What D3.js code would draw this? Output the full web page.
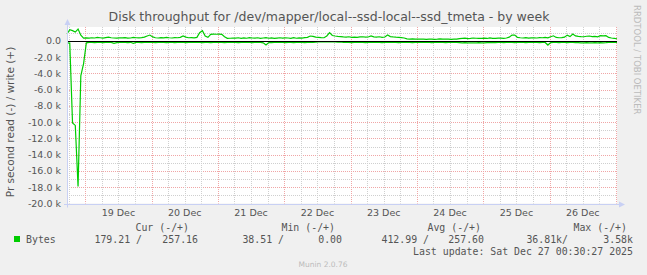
<!DOCTYPE html>
<html lang="en">
    <head>
        <meta charset="utf-8">
        <title>Disk throughput - by week</title>
        <script type="text/javascript" src="https://cdnjs.cloudflare.com/ajax/libs/d3/7.8.5/d3.min.js"></script>
        <style type="text/css">
            body { margin: 0; background: #f0f0f0; }
            text { font-family: "DejaVu Sans", sans-serif; }
            .mono { font-family: "DejaVu Sans Mono", monospace; white-space: pre; }
        </style>
    </head>
    <body>
        <script type="text/javascript">
            var w = 647;
            var h = 275;

            // hourly samples, first one at Dec 18 17:24
            var startTime = new Date(2025, 11, 18, 17, 24);

            // write, bytes per second (drawn above zero)
            var writeValues = [
                840, 1370, 1250, 1080, 1450, 700, 340,
                360, 330, 380, 350, 420, 380, 340, 400, 450, 380, 350, 330, 370,
                360, 400, 330, 350, 420, 380, 360, 390, 450, 600,
                710, 480, 380, 350, 400, 370, 420, 380, 350, 390,
                380, 420, 590, 450, 380, 400, 360, 420, 1000, 1240,
                600, 430, 800, 820, 810, 830, 800, 500, 300, 320,
                350, 330, 380, 300, 360, 320, 400, 350, 330, 380,
                300, 350, 400, 320, 360, 300, 340, 380, 330, 360,
                350, 300, 380, 320, 360, 340, 400, 420, 590, 550,
                450, 430, 400, 380, 600, 1000, 650, 590, 550, 520,
                480, 450, 500, 430, 460, 420, 480, 500, 450, 470,
                600, 480, 450, 500, 430, 470, 710, 520, 480, 450,
                430, 400, 350, 250, 220, 230, 200, 210, 220, 200,
                180, 210, 220, 190, 200, 230, 210, 200, 220, 190,
                210, 200, 260, 300, 320, 280, 300, 350, 320, 300,
                300, 330, 290, 350, 310, 300, 340, 330, 300, 350,
                450, 710, 700, 420, 380, 350, 400, 330, 360, 380,
                350, 400, 380, 430, 360, 500, 620, 420, 380, 400,
                450, 700, 520, 840, 600, 550, 520, 500, 560, 590,
                520, 550, 500, 630, 600, 640, 420, 350, 300, 257
            ];

            // read, bytes per second (drawn below zero)
            var readValues = [
                250, 280, 10100, 10400, 17900, 4300, 2800, 250,
                200, 180, 220, 190, 200, 210, 180, 190, 200, 310, 220, 190,
                200, 190, 210, 180, 310, 200, 190, 220, 200, 180,
                190, 200, 210, 190, 180, 200, 220, 190, 200, 210,
                190, 200, 180, 210, 190, 200, 180, 190, 200, 210,
                200, 190, 210, 200, 180, 190, 200, 210, 190, 200,
                180, 200, 210, 190, 200, 180, 190, 210, 200, 190,
                200, 250, 520, 220, 210, 200, 180, 190, 200, 210,
                200, 190, 210, 180, 200, 190, 210, 200, 190, 200,
                150, 130, 120, 140, 110, 130, 120, 140, 150, 130,
                180, 200, 190, 210, 200, 180, 190, 200, 210, 190,
                200, 190, 180, 200, 210, 190, 200, 180, 190, 200,
                210, 190, 200, 180, 190, 210, 200, 190, 180, 200,
                190, 200, 210, 190, 200, 180, 190, 210, 200, 190,
                200, 190, 210, 250, 230, 240, 250, 260, 240, 230,
                240, 250, 230, 220, 200, 210, 190, 200, 210, 190,
                200, 190, 210, 200, 190, 200, 210, 190, 200, 190,
                200, 210, 190, 200, 520, 210, 190, 200, 210, 190,
                200, 210, 190, 200, 220, 230, 250, 240, 230, 250,
                240, 230, 250, 220, 240, 230, 200, 190, 185, 179
            ];

            var yTickValues = [0, -2000, -4000, -6000, -8000, -10000, -12000, -14000, -16000, -18000, -20000];
            var yTickLabels = ["0.0", "-2.0 k", "-4.0 k", "-6.0 k", "-8.0 k", "-10.0 k", "-12.0 k", "-14.0 k", "-16.0 k", "-18.0 k", "-20.0 k"];
            var dayLabels = ["19 Dec", "20 Dec", "21 Dec", "22 Dec", "23 Dec", "24 Dec", "25 Dec", "26 Dec"];

            var legendHeaders = ["Cur (-/+)", "Min (-/+)", "Avg (-/+)", "Max (-/+)"];
            var legendRead = ["179.21 /", "38.51 /", "412.99 /", "36.81k/"];
            var legendWrite = ["257.16", "0.00", "257.60", "3.58k"];

            var green = "#00cc00";
            var plotLeft = 67, plotRight = 617, plotTop = 27, plotBottom = 203.5;

            var endTime = d3.timeHour.offset(startTime, writeValues.length - 1);

            var x = d3.scaleTime()
                      .domain([startTime, endTime])
                      .range([plotLeft, plotRight]);

            var y = d3.scaleLinear()
                      .domain([-20000, 1700])
                      .range([plotBottom, plotTop]);

            var svg = d3.select("body")
                        .append("svg")
                        .attr("width", w)
                        .attr("height", h);

            svg.append("rect")
               .attr("width", w).attr("height", h)
               .attr("fill", "#f0f0f0");

            svg.append("rect")
               .attr("x", plotLeft).attr("y", plotTop)
               .attr("width", plotRight - plotLeft).attr("height", plotBottom - plotTop)
               .attr("fill", "#ffffff");

            // horizontal grid, minor every 1k, major every 2k
            var gridY = d3.range(-19000, 1001, 1000);
            svg.selectAll("line.hgrid")
               .data(gridY)
               .enter()
               .append("line")
               .attr("class", "hgrid")
               .attr("x1", plotLeft)
               .attr("x2", plotRight)
               .attr("y1", function (d) { return Math.round(y(d)) + 0.5; })
               .attr("y2", function (d) { return Math.round(y(d)) + 0.5; })
               .attr("stroke", function (d) { return d % 2000 == 0 ? "#f0a6a6" : "#cfcfcf"; })
               .attr("stroke-dasharray", "1,1");

            // vertical grid, minor every 6 hours, major at midnight
            var gridX = d3.timeHour.every(6).range(startTime, endTime);
            svg.selectAll("line.vgrid")
               .data(gridX)
               .enter()
               .append("line")
               .attr("class", "vgrid")
               .attr("x1", function (d) { return Math.round(x(d)) + 0.5; })
               .attr("x2", function (d) { return Math.round(x(d)) + 0.5; })
               .attr("y1", plotTop)
               .attr("y2", plotBottom)
               .attr("stroke", function (d) { return d.getHours() == 0 ? "#f0a6a6" : "#cfcfcf"; })
               .attr("stroke-dasharray", "1,1");

            var writeData = writeValues.map(function (v, i) {
                return { t: d3.timeHour.offset(startTime, i), v: v };
            });
            var readData = readValues.map(function (v, i) {
                return { t: d3.timeHour.offset(startTime, i), v: -v };
            });

            var line = d3.line()
                         .x(function (d) { return x(d.t); })
                         .y(function (d) { return y(d.v); });

            svg.append("path")
               .datum(readData)
               .attr("d", line)
               .attr("fill", "none")
               .attr("stroke", green)
               .attr("stroke-width", 1.2);

            svg.append("path")
               .datum(writeData)
               .attr("d", line)
               .attr("fill", "none")
               .attr("stroke", green)
               .attr("stroke-width", 1.2);

            // zero rule
            svg.append("line")
               .attr("x1", plotLeft).attr("x2", plotRight)
               .attr("y1", Math.round(y(0)) + 0.5).attr("y2", Math.round(y(0)) + 0.5)
               .attr("stroke", "#000000");

            // axes with arrows
            var axisColor = "#c8d0f4";
            var by = Math.round(plotBottom) + 0.5;
            svg.append("line")
               .attr("x1", plotLeft + 0.5).attr("x2", plotLeft + 0.5)
               .attr("y1", by + 3).attr("y2", 22)
               .attr("stroke", axisColor);
            svg.append("path")
               .attr("d", "M" + (plotLeft - 2.5) + ",25 L" + (plotLeft + 3.5) + ",25 L" + (plotLeft + 0.5) + ",19 Z")
               .attr("fill", axisColor);
            svg.append("line")
               .attr("x1", plotLeft - 3).attr("x2", plotRight + 4)
               .attr("y1", by).attr("y2", by)
               .attr("stroke", axisColor);
            svg.append("path")
               .attr("d", "M" + (plotRight + 2) + "," + (by - 3) + " L" + (plotRight + 2) + "," + (by + 3) + " L" + (plotRight + 8) + "," + by + " Z")
               .attr("fill", axisColor);

            // y tick labels
            svg.selectAll("text.ylab")
               .data(yTickValues)
               .enter()
               .append("text")
               .attr("class", "ylab")
               .text(function (d, i) { return yTickLabels[i]; })
               .attr("x", 61)
               .attr("y", function (d) { return y(d) + 3.5; })
               .attr("text-anchor", "end")
               .attr("font-size", "9.5px")
               .attr("fill", "#555555");

            // day labels at noon
            svg.selectAll("text.xlab")
               .data(dayLabels)
               .enter()
               .append("text")
               .attr("class", "xlab")
               .text(function (d) { return d; })
               .attr("x", function (d, i) { return x(new Date(2025, 11, 19 + i, 12)); })
               .attr("y", 216)
               .attr("text-anchor", "middle")
               .attr("font-size", "9.5px")
               .attr("fill", "#555555");

            svg.append("text")
               .text("Disk throughput for /dev/mapper/local--ssd-local--ssd_tmeta - by week")
               .attr("x", 329)
               .attr("y", 21)
               .attr("text-anchor", "middle")
               .attr("font-size", "12.5px")
               .attr("fill", "#555555");

            svg.append("text")
               .text("Pr second read (-) / write (+)")
               .attr("transform", "translate(14,122) rotate(-90)")
               .attr("text-anchor", "middle")
               .attr("font-size", "10.5px")
               .attr("fill", "#555555");

            svg.append("text")
               .text("RRDTOOL / TOBI OETIKER")
               .attr("transform", "translate(634,5) rotate(90)")
               .attr("text-anchor", "start")
               .attr("font-size", "8.5px")
               .attr("fill", "#bbbbbb");

            // legend
            var colEnds = [189, 335, 481, 627];
            var readEnds = [142, 284, 429, 568];
            var writeEnds = [198, 342, 484, 633];

            svg.selectAll("text.lhead")
               .data(legendHeaders)
               .enter()
               .append("text")
               .attr("class", "lhead mono")
               .text(function (d) { return d; })
               .attr("x", function (d, i) { return colEnds[i]; })
               .attr("y", 231)
               .attr("text-anchor", "end")
               .attr("font-size", "9.9px")
               .attr("fill", "#555555");

            svg.append("rect")
               .attr("x", 14).attr("y", 236)
               .attr("width", 6).attr("height", 6)
               .attr("fill", green);

            svg.append("text")
               .attr("class", "mono")
               .text("Bytes")
               .attr("x", 26)
               .attr("y", 243)
               .attr("font-size", "9.9px")
               .attr("fill", "#555555");

            svg.selectAll("text.lread")
               .data(legendRead)
               .enter()
               .append("text")
               .attr("class", "lread mono")
               .text(function (d) { return d; })
               .attr("x", function (d, i) { return readEnds[i]; })
               .attr("y", 243)
               .attr("text-anchor", "end")
               .attr("font-size", "9.9px")
               .attr("fill", "#555555");

            svg.selectAll("text.lwrite")
               .data(legendWrite)
               .enter()
               .append("text")
               .attr("class", "lwrite mono")
               .text(function (d) { return d; })
               .attr("x", function (d, i) { return writeEnds[i]; })
               .attr("y", 243)
               .attr("text-anchor", "end")
               .attr("font-size", "9.9px")
               .attr("fill", "#555555");

            svg.append("text")
               .attr("class", "mono")
               .text("Last update: Sat Dec 27 00:30:27 2025")
               .attr("x", 633)
               .attr("y", 255)
               .attr("text-anchor", "end")
               .attr("font-size", "9.9px")
               .attr("fill", "#555555");

            svg.append("text")
               .text("Munin 2.0.76")
               .attr("x", 323)
               .attr("y", 267)
               .attr("text-anchor", "middle")
               .attr("font-size", "7.5px")
               .attr("fill", "#bbbbbb");
        </script>
    </body>
</html>
